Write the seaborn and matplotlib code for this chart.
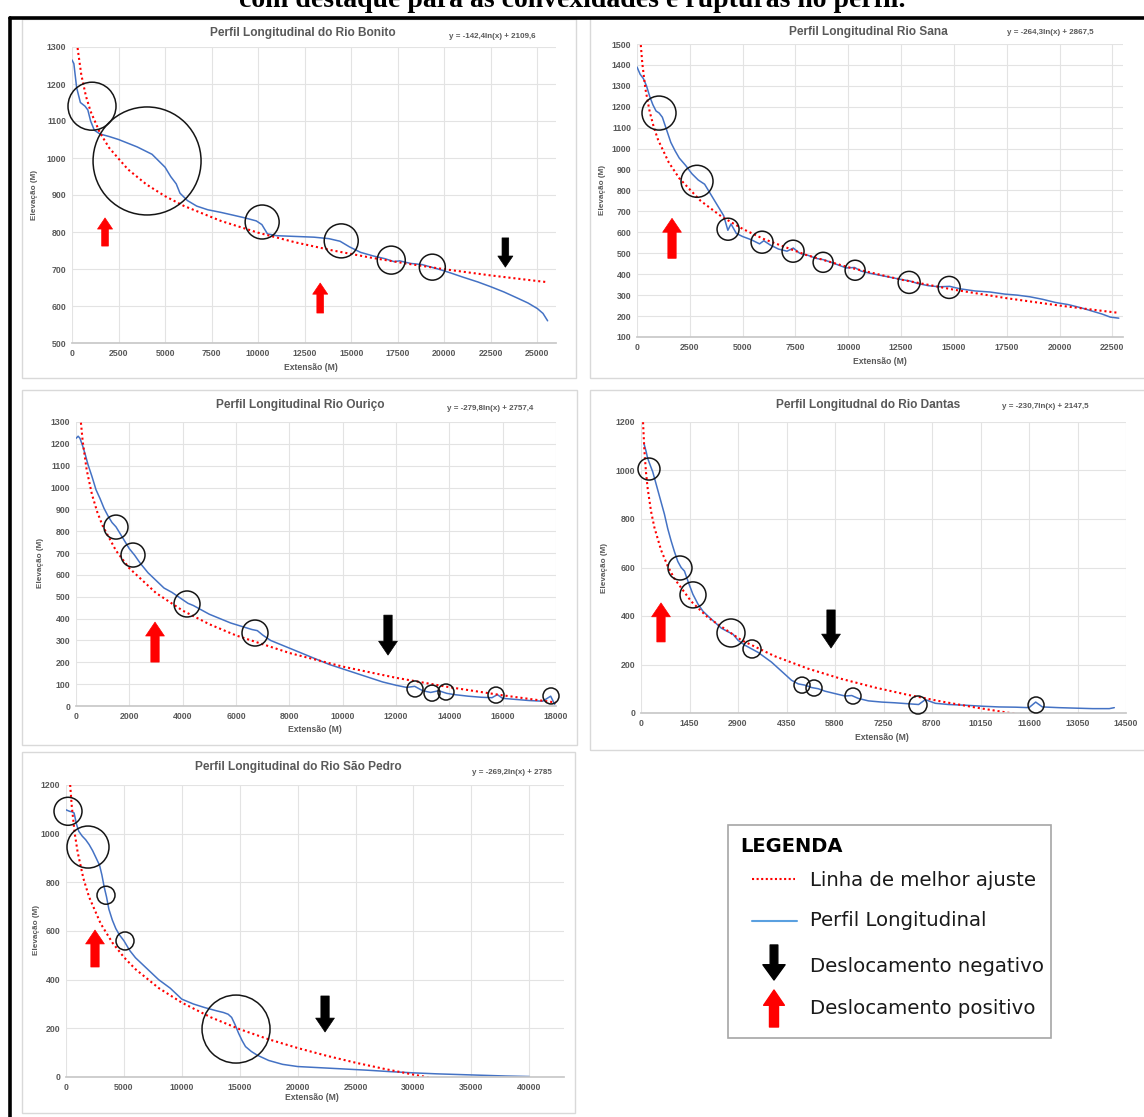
import matplotlib
matplotlib.use('Agg')
import matplotlib.pyplot as plt
import seaborn as sns
from matplotlib.patches import Rectangle
from matplotlib.lines import Line2D

sns.set_theme(style='white')
plt.rcParams['font.family'] = ['Liberation Sans', 'DejaVu Sans']

W, H = 1144, 1117

# ---------------- data ----------------
# Rio Bonito
bonito_x = [0, 100, 250, 450, 700, 850, 1000, 1200, 1500, 2000, 2500, 3000, 3500, 3900, 4300, 4700,
            5000, 5300, 5600, 5800, 6200, 6700, 7300, 8000, 8700, 9300, 9900, 10200, 10500, 11000,
            12000, 13000, 13800, 14400, 14900, 15500, 16200, 16800, 17300, 17600, 18200, 18800,
            19300, 19800, 20300, 21000, 21800, 22500, 23200, 23900, 24500, 25000, 25300, 25550]
bonito_y = [1265, 1255, 1190, 1150, 1140, 1130, 1100, 1075, 1065, 1058, 1050, 1040, 1030, 1020, 1010, 990,
            975, 950, 930, 905, 885, 870, 860, 853, 845, 838, 830, 820, 795, 790,
            788, 786, 782, 775, 760, 745, 735, 728, 720, 722, 715, 712,
            705, 698, 690, 678, 665, 652, 638, 622, 608, 593, 580, 560]
bonito_fit_x = [300, 500, 750, 1000, 1500, 2000, 3000, 4000, 5000, 6000, 8000, 10000, 12000, 14000,
                16000, 18000, 20000, 22500, 25000, 25500]
bonito_fit_y = [1297.4, 1224.6, 1166.9, 1125.9, 1068.2, 1027.2, 969.5, 928.5, 896.8, 870.7, 829.9, 798.1,
                772.0, 750.1, 731.2, 714.4, 699.4, 682.6, 667.5, 664.7]
bonito_circ_x = [1075, 4032, 10215, 14462, 17150, 19355]
bonito_circ_y = [1140, 992, 827, 776, 724, 705]
bonito_arrows = [(1774, 762, 838, 'up'), (13333, 581, 662, 'up'), (23280, 784, 705, 'down')]

# Rio Sana
sana_x = [0, 150, 300, 450, 600, 750, 900, 1050, 1200, 1400, 1600, 1800, 2000, 2300, 2600, 2900, 3200,
          3500, 3800, 4100, 4300, 4450, 4700, 5000, 5400, 5800, 6000, 6300, 6700, 7100, 7400, 7700,
          8100, 8500, 8800, 9100, 9500, 9900, 10300, 10600, 11000, 11500, 12000, 12500, 12900, 13300,
          13800, 14300, 14800, 15300, 16000, 16700, 17400, 18000, 18600, 19200, 19800, 20400, 21000,
          21500, 22000, 22400, 22800]
sana_y = [1390, 1355, 1335, 1300, 1250, 1210, 1180, 1170, 1150, 1090, 1030, 990, 955, 920, 880, 850, 830,
          780, 730, 680, 610, 640, 595, 580, 565, 545, 560, 540, 520, 510, 525, 500,
          490, 475, 470, 460, 445, 430, 432, 415, 405, 395, 385, 375, 368, 355,
          345, 340, 342, 330, 320, 315, 305, 300, 292, 280, 265, 255, 240,
          225, 210, 195, 190]
sana_fit_x = [180, 250, 400, 600, 800, 1000, 1500, 2000, 3000, 4000, 5000, 6000, 8000, 10000, 12500,
              15000, 17500, 20000, 22500, 22800]
sana_fit_y = [1495.0, 1408.3, 1284.1, 1176.8, 1100.7, 1041.7, 934.7, 858.5, 751.5, 675.4, 616.5, 568.1,
              492.2, 433.3, 374.1, 326.0, 285.3, 250.1, 218.9, 215.4]
sana_circ_x = [1042, 2841, 4309, 5919, 7386, 8807, 10322, 12879, 14773]
sana_circ_y = [1170, 844, 615, 553, 510, 457, 419, 361, 337]
sana_arrows = [(1657, 476, 667, 'up')]

# Rio Ouriço
ourico_x = [0, 80, 150, 250, 350, 450, 600, 750, 900, 1050, 1200, 1350, 1500, 1650, 1800, 2000, 2200,
            2400, 2700, 3000, 3300, 3600, 3900, 4200, 4400, 4700, 5000, 5400, 5800, 6200, 6600, 6800,
            7000, 7300, 7700, 8100, 8500, 9000, 9500, 10000, 10500, 11000, 11500, 12000, 12400, 12700,
            13000, 13300, 13600, 13900, 14200, 14700, 15200, 15600, 15800, 16000, 16500, 17000, 17500,
            17800, 17950]
ourico_y = [1225, 1235, 1225, 1190, 1150, 1105, 1050, 990, 950, 905, 870, 840, 820, 790, 760, 720, 690,
            655, 610, 575, 540, 520, 495, 470, 460, 440, 420, 400, 380, 365, 350, 345,
            325, 300, 280, 260, 240, 215, 190, 170, 150, 130, 110, 95, 85, 90,
            70, 62, 70, 58, 52, 45, 40, 38, 52, 35, 30, 25, 22,
            45, 8]
ourico_fit_x = [185, 250, 400, 600, 800, 1000, 1500, 2000, 3000, 4000, 5000, 6000, 8000, 10000, 12000,
                14000, 16000, 18000]
ourico_fit_y = [1296.8, 1212.6, 1081.1, 967.5, 886.9, 824.6, 711.2, 630.6, 517.3, 436.7, 374.3, 323.1,
                242.8, 180.4, 129.2, 86.1, 48.9, 15.9]
ourico_circ_x = [1500, 2138, 4163, 6713, 12713, 13350, 13875, 15750, 17813]
ourico_circ_y = [819, 691, 467, 334, 78, 59, 64, 50, 46]
ourico_arrows = [(2963, 201, 384, 'up'), (11700, 416, 233, 'down')]

# Rio Dantas
dantas_x = [90, 150, 200, 280, 350, 420, 500, 600, 700, 800, 900, 1000, 1100, 1200, 1300, 1400, 1550,
            1700, 1850, 2000, 2200, 2400, 2600, 2750, 2900, 3100, 3300, 3500, 3700, 3900, 4100, 4300,
            4500, 4700, 4900, 5100, 5300, 5500, 5800, 6100, 6300, 6500, 6800, 7200, 7600, 8000, 8300,
            8500, 8800, 9200, 9700, 10200, 10700, 11200, 11600, 11800, 12000, 12500, 13000, 13500,
            14000, 14150]
dantas_y = [1110, 1080, 1050, 1020, 995, 960, 920, 870, 820, 760, 710, 665, 625, 600, 585, 545, 490,
            450, 420, 400, 375, 350, 335, 325, 300, 280, 265, 250, 230, 210, 185, 160,
            135, 120, 115, 105, 100, 90, 80, 70, 72, 60, 50, 45, 42, 38, 35,
            55, 40, 35, 32, 28, 25, 24, 22, 45, 25, 22, 20, 18,
            18, 22]
dantas_fit_x = [61, 100, 150, 200, 300, 400, 600, 800, 1000, 1500, 2000, 3000, 4000, 5000, 6000, 7000,
                8000, 9000, 10000, 11000, 11500]
dantas_fit_y = [1199.1, 1085.1, 991.5, 925.3, 831.6, 765.4, 671.7, 605.3, 553.8, 460.4, 393.9, 300.5,
                234.1, 182.6, 140.4, 104.9, 74.2, 47.0, 22.8, 0.6, -9.5]
dantas_circ_x = [239, 1166, 1555, 2691, 3319, 4814, 5173, 6339, 8282, 11811]
dantas_circ_y = [1006, 598, 487, 330, 264, 115, 103, 70, 33, 33]
dantas_arrows = [(598, 293, 454, 'up'), (5681, 425, 268, 'down')]

# Rio São Pedro
spedro_x = [0, 300, 500, 700, 900, 1100, 1400, 1700, 2000, 2300, 2600, 2900, 3100, 3300, 3500, 3700,
            4000, 4300, 4600, 5000, 5500, 6000, 7000, 8000, 9000, 10000, 11000, 12000, 13000, 13600,
            14000, 14300, 14600, 14900, 15200, 15500, 16000, 16500, 17500, 18700, 20000, 22000, 24000,
            26000, 28000, 30000, 32000, 34000, 36000, 38000, 40000]
spedro_y = [1098, 1092, 1090, 1085, 1040, 1010, 990, 975, 955, 930, 900, 870, 830, 780, 740, 690,
            645, 610, 585, 560, 520, 490, 445, 400, 365, 320, 300, 285, 272, 265,
            258, 245, 215, 180, 150, 125, 105, 90, 68, 52, 43, 38, 33,
            28, 22, 17, 13, 10, 7, 4, 2]
spedro_fit_x = [360, 500, 750, 1000, 1500, 2000, 3000, 4000, 5000, 6000, 8000, 10000, 12500, 15000,
                17500, 20000, 22500, 25000, 27500, 30000, 31500]
spedro_fit_y = [1200.5, 1111.9, 1002.9, 925.4, 816.3, 738.8, 629.8, 552.3, 492.2, 443.0, 365.7, 305.7,
                245.4, 196.4, 154.9, 119.1, 87.3, 58.8, 33.2, 9.8, -3.4]
spedro_circ_x = [173, 1900, 3454, 5095, 14681]
spedro_circ_y = [1092, 945, 747, 559, 197]
spedro_arrows = [(2504, 452, 604, 'up'), (22367, 333, 185, 'down')]

titles = ['Perfil Longitudinal do Rio Bonito', 'Perfil Longitudinal Rio Sana',
          'Perfil Longitudinal Rio Ouriço', 'Perfil Longitudnal do Rio Dantas',
          'Perfil Longitudinal do Rio São Pedro']
equations = ['y = -142,4ln(x) + 2109,6', 'y = -264,3ln(x) + 2867,5', 'y = -279,8ln(x) + 2757,4',
             'y = -230,7ln(x) + 2147,5', 'y = -269,2ln(x) + 2785']
xticks_list = [[0, 2500, 5000, 7500, 10000, 12500, 15000, 17500, 20000, 22500, 25000],
               [0, 2500, 5000, 7500, 10000, 12500, 15000, 17500, 20000, 22500],
               [0, 2000, 4000, 6000, 8000, 10000, 12000, 14000, 16000, 18000],
               [0, 1450, 2900, 4350, 5800, 7250, 8700, 10150, 11600, 13050, 14500],
               [0, 5000, 10000, 15000, 20000, 25000, 30000, 35000, 40000]]
yticks_list = [[500, 600, 700, 800, 900, 1000, 1100, 1200, 1300],
               [100, 200, 300, 400, 500, 600, 700, 800, 900, 1000, 1100, 1200, 1300, 1400, 1500],
               [0, 100, 200, 300, 400, 500, 600, 700, 800, 900, 1000, 1100, 1200, 1300],
               [0, 200, 400, 600, 800, 1000, 1200],
               [0, 200, 400, 600, 800, 1000, 1200]]
legend_labels = ['Linha de melhor ajuste', 'Perfil Longitudinal',
                 'Deslocamento negativo', 'Deslocamento positivo']
caption = 'com destaque para as convexidades e rupturas no perfil.'

# ---------------- layout (pixels) ----------------
panels = [
    dict(prof=(bonito_x, bonito_y), fit=(bonito_fit_x, bonito_fit_y),
         circ=(bonito_circ_x, bonito_circ_y), circ_r=[24, 54, 17, 17, 14, 13], arrows=bonito_arrows,
         axes=(72, 47, 556, 343), xmax=26000, frame=(22, 19, 576, 378),
         title_xy=(303, 33), eq_xy=(492, 37), ylab_xy=(34, 195), xlab_xy=(311, 367), ascale=0.8),
    dict(prof=(sana_x, sana_y), fit=(sana_fit_x, sana_fit_y),
         circ=(sana_circ_x, sana_circ_y), circ_r=[17, 16, 11, 11, 11, 10, 10, 11, 11], arrows=sana_arrows,
         axes=(637, 44, 1123, 337), xmax=23000, frame=(590, 17, 1150, 378),
         title_xy=(868, 32), eq_xy=(1050, 32), ylab_xy=(603, 190), xlab_xy=(880, 362), ascale=1.0),
    dict(prof=(ourico_x, ourico_y), fit=(ourico_fit_x, ourico_fit_y),
         circ=(ourico_circ_x, ourico_circ_y), circ_r=[12, 12, 13, 13, 8, 8, 8, 8, 8], arrows=ourico_arrows,
         axes=(76, 422, 556, 706), xmax=18000, frame=(22, 390, 577, 745),
         title_xy=(300, 405), eq_xy=(490, 408), ylab_xy=(40, 563), xlab_xy=(315, 730), ascale=1.0),
    dict(prof=(dantas_x, dantas_y), fit=(dantas_fit_x, dantas_fit_y),
         circ=(dantas_circ_x, dantas_circ_y), circ_r=[11, 12, 13, 14, 9, 8, 8, 8, 9, 8], arrows=dantas_arrows,
         axes=(641, 422, 1126, 713), xmax=14500, frame=(590, 390, 1150, 750),
         title_xy=(868, 405), eq_xy=(1045, 407), ylab_xy=(605, 568), xlab_xy=(882, 737), ascale=1.0),
    dict(prof=(spedro_x, spedro_y), fit=(spedro_fit_x, spedro_fit_y),
         circ=(spedro_circ_x, spedro_circ_y), circ_r=[14, 21, 9, 9, 34], arrows=spedro_arrows,
         axes=(66, 785, 564, 1077), xmax=43000, frame=(22, 752, 575, 1113),
         title_xy=(298, 767), eq_xy=(512, 772), ylab_xy=(37, 930), xlab_xy=(312, 1097), ascale=1.0),
]

GRAY = '#595959'
fig = plt.figure(figsize=(W / 100, H / 100), dpi=100)
fig.patch.set_facecolor('white')


def box(l, t, r, b):
    return [l / W, 1 - b / H, (r - l) / W, (b - t) / H]


def fpt(x, y):
    return x / W, 1 - y / H


def arrow(ax, x, y0, y1, color, scale):
    ax.annotate('', xy=(x, y1), xytext=(x, y0),
                arrowprops=dict(arrowstyle='simple,head_length=1.0,head_width=1.35,tail_width=0.6',
                                fc=color, ec=color, lw=0.5, mutation_scale=10 * scale,
                                shrinkA=0, shrinkB=0))


for i, p in enumerate(panels):
    l, t, r, b = p['frame']
    fig.add_artist(Rectangle((l / W, 1 - b / H), (r - l) / W, (b - t) / H, transform=fig.transFigure,
                             fill=False, ec='#d9d9d9', lw=1.0))
    ax = fig.add_axes(box(*p['axes']))
    sns.lineplot(x=p['prof'][0], y=p['prof'][1], ax=ax, color='#4472c4', lw=1.1,
                 estimator=None, sort=False)
    sns.lineplot(x=p['fit'][0], y=p['fit'][1], ax=ax, color='#ff0000', lw=1.5,
                 linestyle=(0, (1, 1.4)), estimator=None, sort=False)
    ax.scatter(p['circ'][0], p['circ'][1], s=[(1.44 * rr) ** 2 for rr in p['circ_r']],
               facecolors='none', edgecolors='#151515', linewidths=1.1, clip_on=False, zorder=5)
    for ax_x, y0, y1, d in p['arrows']:
        arrow(ax, ax_x, y0, y1, 'red' if d == 'up' else 'black', p['ascale'])

    ax.set_xlim(0, p['xmax'])
    ax.set_ylim(yticks_list[i][0], yticks_list[i][-1])
    ax.set_xticks(xticks_list[i])
    ax.set_yticks(yticks_list[i])
    ax.grid(True, color='#e3e3e3', lw=0.8)
    for s in ['top', 'right', 'left']:
        ax.spines[s].set_visible(False)
    ax.spines['bottom'].set_color('#c8c8c8')
    ax.tick_params(length=0, labelsize=6.3, labelcolor=GRAY, pad=4)
    for lab in ax.get_xticklabels() + ax.get_yticklabels():
        lab.set_fontweight('bold')
    ax.set_xlabel('')
    ax.set_ylabel('')

    fig.text(*fpt(*p['title_xy']), titles[i], ha='center', va='center', fontsize=8.6,
             fontweight='bold', color=GRAY)
    fig.text(*fpt(*p['eq_xy']), equations[i], ha='center', va='center', fontsize=5.8,
             fontweight='bold', color=GRAY)
    fig.text(*fpt(*p['ylab_xy']), 'Elevação (M)', ha='center', va='center', rotation=90,
             fontsize=5.9, fontweight='bold', color=GRAY)
    fig.text(*fpt(*p['xlab_xy']), 'Extensão (M)', ha='center', va='center', fontsize=6.2,
             fontweight='bold', color=GRAY)

# legend box
lg = fig.add_axes(box(728, 825, 1051, 1038))
lg.set_xlim(0, 323)
lg.set_ylim(213, 0)
lg.axis('off')
lg.add_patch(Rectangle((0, 0), 323, 213, fill=False, ec='#a6a6a6', lw=1.2, clip_on=False))
lg.text(12, 22, 'LEGENDA', ha='left', va='center', fontsize=14, fontweight='bold',
        family='DejaVu Sans', color='black')
lg.add_line(Line2D([24, 67], [54, 54], color='#ff0000', lw=1.5, linestyle=(0, (1, 1.2))))
lg.add_line(Line2D([24, 69], [96, 96], color='#5aa0e0', lw=1.5))
lg.annotate('', xy=(46, 155), xytext=(46, 120),
            arrowprops=dict(arrowstyle='simple,head_length=1.1,head_width=1.6,tail_width=0.55',
                            fc='black', ec='black', mutation_scale=10, shrinkA=0, shrinkB=0))
lg.annotate('', xy=(46, 165), xytext=(46, 202),
            arrowprops=dict(arrowstyle='simple,head_length=1.1,head_width=1.5,tail_width=0.65',
                            fc='red', ec='red', mutation_scale=10, shrinkA=0, shrinkB=0))
for yy, lab in zip([55, 96, 141, 183], legend_labels):
    lg.text(82, yy, lab, ha='left', va='center', fontsize=14.2, family='DejaVu Sans', color='#1a1a1a')

# outer frame and the caption of the source page, cut off at the top as in the original
fig.add_artist(Line2D([10 / W, 10 / W], [0, 1 - 18 / H], transform=fig.transFigure, color='black', lw=2.6))
fig.add_artist(Line2D([10 / W, 1], [1 - 18 / H, 1 - 18 / H], transform=fig.transFigure, color='black', lw=2.6))
fig.text(572 / W, 1 - 7 / H, caption, ha='center', va='baseline', fontsize=20,
         fontweight='bold', family='Liberation Serif', color='black')

fig.savefig('out.png', dpi=100, facecolor='white')
